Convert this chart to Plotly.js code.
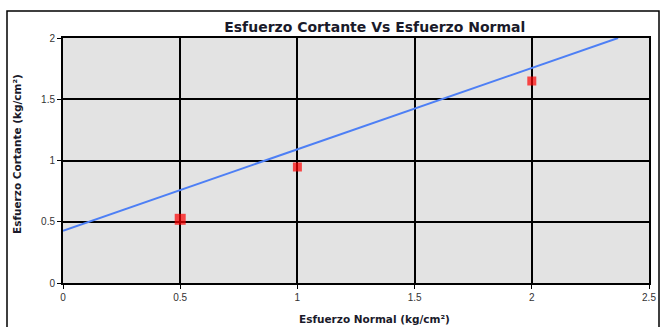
<!DOCTYPE html>
<html>
<head>
<meta charset="utf-8">
<script src="https://cdn.plot.ly/plotly-3.0.1.min.js"></script>
<style>html,body{margin:0;padding:0;background:#fff}#chart{width:660px;height:327px}</style>
</head>
<body>
<div id="chart"></div>
<script>
// Data
const normalStress = [0.5, 1, 2];
const shearStress = [0.52, 0.947, 1.649];
const envelopeX = [0, 2.368];
const envelopeY = [0.427, 2];
const xTicks = [0, 0.5, 1, 1.5, 2, 2.5];
const yTicks = [0, 0.5, 1, 1.5, 2];

const traces = [
  {
    x: envelopeX, y: envelopeY, type: 'scatter', mode: 'lines',
    line: {color: '#4d7ff5', width: 2}, hoverinfo: 'skip'
  },
  {
    x: normalStress, y: shearStress, type: 'scatter', mode: 'markers',
    marker: {symbol: 'square', color: '#ff0000', size: [11, 9, 9], line: {width: 0}}
  }
];

const axisCommon = {
  showgrid: true, gridcolor: '#000', gridwidth: 2,
  zeroline: false, showline: true, linecolor: '#000', linewidth: 2, mirror: true,
  ticks: 'outside', ticklen: 4, tickcolor: '#000', tickwidth: 1,
  tickfont: {family: 'Liberation Sans, Arial, sans-serif', size: 10, color: '#333'}
};

const layout = {
  width: 660, height: 327,
  margin: {l: 63, r: 11, t: 38, b: 44},
  paper_bgcolor: '#fff', plot_bgcolor: '#e3e3e3',
  showlegend: false,
  title: {
    text: '<b>Esfuerzo Cortante Vs Esfuerzo Normal</b>',
    font: {family: 'DejaVu Sans, sans-serif', size: 14, color: '#1a1a2a'},
    xref: 'paper', x: 0.532, xanchor: 'center',
    yref: 'container', y: 1 - 27/327, yanchor: 'middle'
  },
  xaxis: Object.assign({}, axisCommon, {range: [0, 2.5], tickvals: xTicks, ticktext: xTicks.map(String)}),
  yaxis: Object.assign({}, axisCommon, {range: [0, 2], tickvals: yTicks, ticktext: yTicks.map(String)}),
  annotations: [
    {
      text: '<b>Esfuerzo Normal (kg/cm²)</b>', xref: 'paper', yref: 'paper',
      x: 0.532, y: -(319-283)/245, xanchor: 'center', yanchor: 'middle', showarrow: false,
      font: {family: 'DejaVu Sans, sans-serif', size: 10.5, color: '#1a1a2a'}
    },
    {
      text: '<b>Esfuerzo Cortante (kg/cm²)</b>', xref: 'paper', yref: 'paper', textangle: -90,
      x: -(63-17)/586, y: (283-154)/245, xanchor: 'center', yanchor: 'middle', showarrow: false,
      font: {family: 'DejaVu Sans, sans-serif', size: 10.5, color: '#1a1a2a'}
    }
  ],
  shapes: [
    {
      type: 'rect', xref: 'paper', yref: 'paper',
      x0: (7-63)/586, x1: (659-63)/586, y0: -0.3, y1: (283-11)/245,
      line: {color: '#000', width: 1.5}, fillcolor: 'rgba(0,0,0,0)', layer: 'below'
    }
  ]
};

Plotly.newPlot('chart', traces, layout, {displayModeBar: false, staticPlot: true});
</script>
</body>
</html>
